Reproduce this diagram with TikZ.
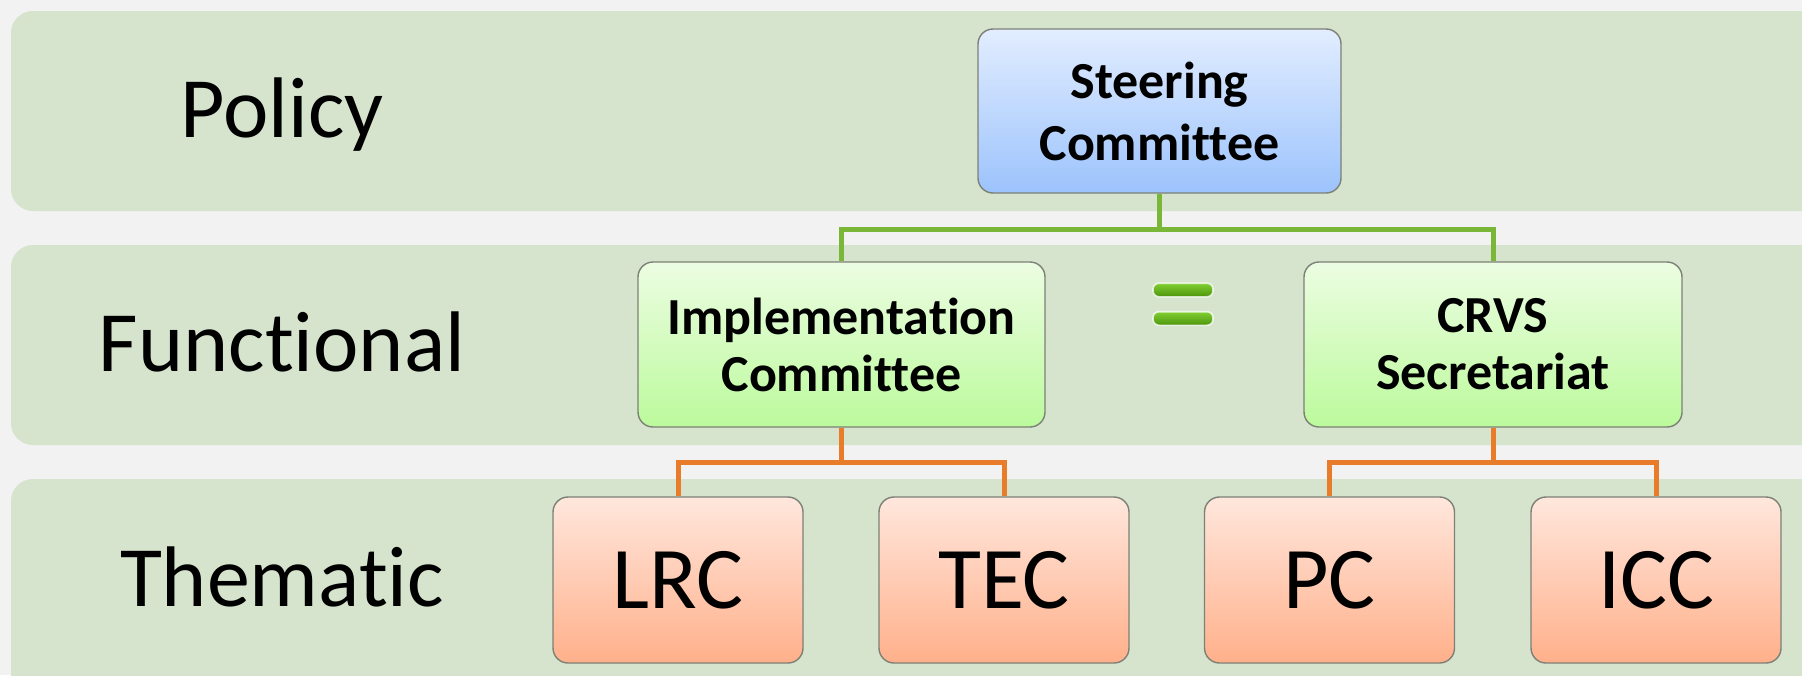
\documentclass[tikz,border=0pt]{standalone}
\usepackage{fontspec}
\setmainfont{Carlito}[Ligatures={NoCommon,NoRequired,NoContextual}]
\usetikzlibrary{calc}
\definecolor{bgc}{HTML}{F2F2F2}
\definecolor{bandc}{RGB}{214,228,206}
\definecolor{blueT}{RGB}{226,237,255}
\definecolor{blueB}{RGB}{156,195,252}
\definecolor{greenT}{RGB}{236,253,226}
\definecolor{greenB}{RGB}{188,250,156}
\definecolor{orT}{RGB}{255,231,221}
\definecolor{orB}{RGB}{255,176,138}
\definecolor{glinec}{RGB}{122,182,56}
\definecolor{olinec}{RGB}{232,124,42}
\definecolor{boxedge}{RGB}{125,128,118}
\definecolor{eqT}{RGB}{130,208,50}
\definecolor{eqB}{RGB}{76,148,12}
\begin{document}
\begin{tikzpicture}[x=0.5pt,y=-0.5pt,
  band/.style={fill=bandc, rounded corners=11pt},
  lab/.style={font=\fontsize{43}{50}\selectfont, anchor=base, inner sep=0pt},
  box/.style={draw=boxedge, line width=0.7pt, rounded corners=7.5pt, align=center, inner sep=0pt},
  topbox/.style={box, top color=blueT, bottom color=blueB, minimum width=181.5pt, minimum height=82pt, font=\bfseries\fontsize{26}{31}\selectfont},
  midbox/.style={box, top color=greenT, bottom color=greenB, minimum height=82.5pt, font=\bfseries\fontsize{26}{28.5}\selectfont},
  lowbox/.style={box, top color=orT, bottom color=orB, minimum width=125pt, minimum height=83pt, font=\fontsize{44}{50}\selectfont},
  gconn/.style={draw=glinec, line width=2.5pt},
  oconn/.style={draw=olinec, line width=2.5pt},
  eqbar/.style={top color=eqT, bottom color=eqB, draw=white, draw opacity=0.75, line width=0.8pt, rounded corners=3pt, minimum width=30pt, minimum height=6.8pt, inner sep=0pt}
]
\path[use as bounding box, clip] (0,0) rectangle (1802,675);
\fill[bgc] (0,0) rectangle (1802,675);
% bands
\fill[band] (11,11) rectangle (1840,211);
\fill[band] (11,245) rectangle (1840,445);
\fill[band] (11,479) rectangle (1840,710);
% band labels
\node[lab] (pol) at (282,137) {Policy};
\node[lab] (fun) at (282,371) {Functional};
\node[lab] (the) at (282,606) {Thematic};
% boxes
\node[topbox] (steer) at (1159.5,111) {Steering\\Committee};
\node[midbox, minimum width=203.5pt] (impl) at (841.5,344.5) {Implementation\\Committee};
\node[midbox, minimum width=189pt] (crvs) at (1493,344.5) {CRVS\\Secretariat};
\node[lowbox] (lrc) at (678,580) {LRC};
\node[lowbox] (tec) at (1004,580) {TEC};
\node[lowbox] (pc) at (1329.5,580) {PC};
\node[lowbox] (icc) at (1656,580) {ICC};
% equals sign
\node[eqbar] (eqa) at (1183,290) {};
\node[eqbar] (eqb) at (1183,318.5) {};
% connectors
\coordinate (gbus) at (1159.5,229);
\coordinate (obusl) at (841.5,462);
\coordinate (obusr) at (1493,462);
\draw[gconn] (steer.south) -- (gbus) -| (impl.north);
\draw[gconn] (gbus) -| (crvs.north);
\draw[oconn] (impl.south) -- (obusl) -| (lrc.north);
\draw[oconn] (obusl) -| (tec.north);
\draw[oconn] (crvs.south) -- (obusr) -| (pc.north);
\draw[oconn] (obusr) -| (icc.north);
\end{tikzpicture}
\end{document}
